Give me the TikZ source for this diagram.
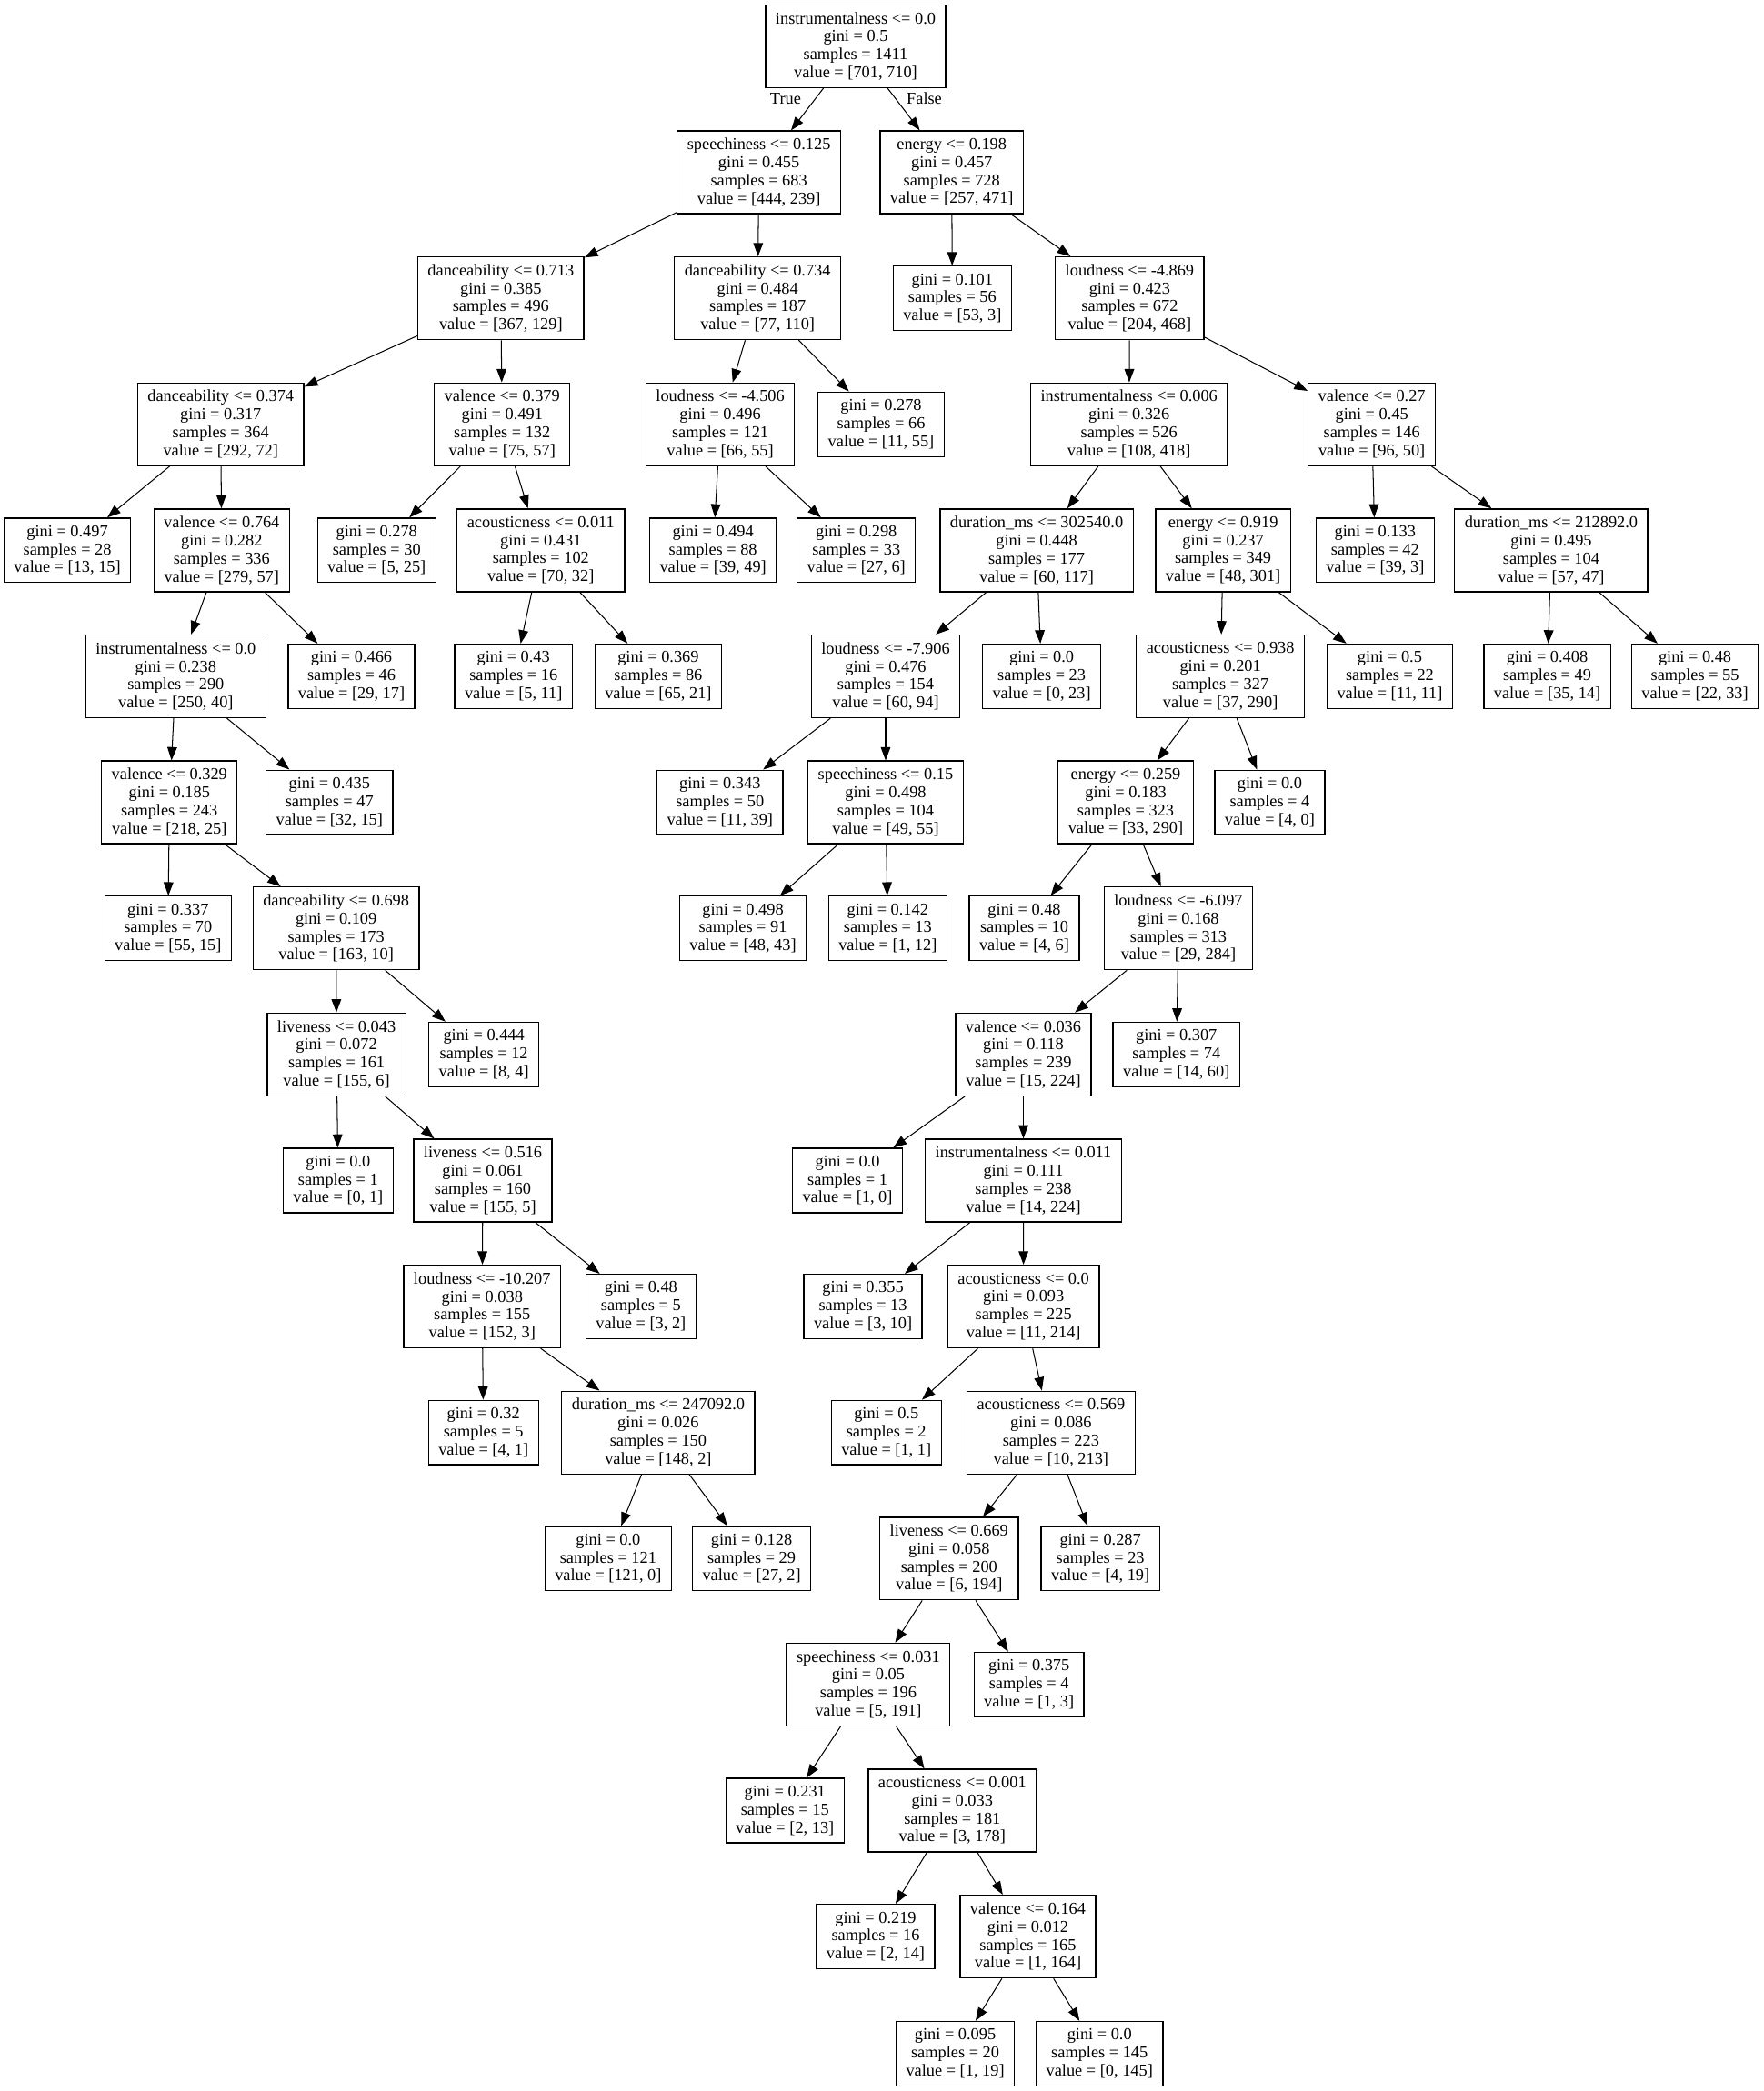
\documentclass[tikz,border=0pt]{standalone}
\usepackage{fontspec}
\setmainfont{Liberation Serif}
\usetikzlibrary{arrows.meta}

\tikzset{
	split/.style={rectangle, draw, line width=0.9pt, align=center, inner xsep=7.5pt, inner ysep=0pt,
		minimum height=62pt, font=\fontsize{12.5}{13.5}\selectfont},
	leaf/.style={split, minimum height=48.3pt},
	link/.style={draw, line width=0.7pt, -{Triangle[length=10pt,width=7.3pt]}},
	branch/.style={inner sep=0pt, font=\fontsize{12.5}{13.5}\selectfont}
}

\begin{document}
\begin{tikzpicture}[x=1pt, y=-1pt]
		
		\useasboundingbox (0,0) rectangle (1322,1568);
		
		%Rank 0
		\node [split] (root) at (641.5,34.7) {instrumentalness <= 0.0\\ gini = 0.5\\ samples = 1411\\ value = [701, 710]};
		
		%Rank 1
		\node [split] (speechA) at (569,129.2) {speechiness <= 0.125\\ gini = 0.455\\ samples = 683\\ value = [444, 239]};
		\node [split] (energyA) at (713.6,129.2) {energy <= 0.198\\ gini = 0.457\\ samples = 728\\ value = [257, 471]};
		
		%Rank 2
		\node [split] (danceA) at (375.5,223.7) {danceability <= 0.713\\ gini = 0.385\\ samples = 496\\ value = [367, 129]};
		\node [split] (danceB) at (568,223.7) {danceability <= 0.734\\ gini = 0.484\\ samples = 187\\ value = [77, 110]};
		\node [leaf] (leaf1) at (714,223.7) {gini = 0.101\\ samples = 56\\ value = [53, 3]};
		\node [split] (loudA) at (847,223.7) {loudness <= -4.869\\ gini = 0.423\\ samples = 672\\ value = [204, 468]};
		
		%Rank 3
		\node [split] (danceC) at (165.5,318.2) {danceability <= 0.374\\ gini = 0.317\\ samples = 364\\ value = [292, 72]};
		\node [split] (valenceA) at (376.5,318.2) {valence <= 0.379\\ gini = 0.491\\ samples = 132\\ value = [75, 57]};
		\node [split] (loudB) at (540,318.2) {loudness <= -4.506\\ gini = 0.496\\ samples = 121\\ value = [66, 55]};
		\node [leaf] (leaf2) at (660.6,318.2) {gini = 0.278\\ samples = 66\\ value = [11, 55]};
		\node [split] (instrA) at (846.5,318.2) {instrumentalness <= 0.006\\ gini = 0.326\\ samples = 526\\ value = [108, 418]};
		\node [split] (valenceB) at (1028.5,318.2) {valence <= 0.27\\ gini = 0.45\\ samples = 146\\ value = [96, 50]};
		
		%Rank 4
		\node [leaf] (leaf3) at (50.5,412.7) {gini = 0.497\\ samples = 28\\ value = [13, 15]};
		\node [split] (valenceC) at (166.2,412.7) {valence <= 0.764\\ gini = 0.282\\ samples = 336\\ value = [279, 57]};
		\node [leaf] (leaf4) at (282.4,412.7) {gini = 0.278\\ samples = 30\\ value = [5, 25]};
		\node [split] (acousA) at (405.5,412.7) {acousticness <= 0.011\\ gini = 0.431\\ samples = 102\\ value = [70, 32]};
		\node [leaf] (leaf5) at (534.6,412.7) {gini = 0.494\\ samples = 88\\ value = [39, 49]};
		\node [leaf] (leaf6) at (642,412.7) {gini = 0.298\\ samples = 33\\ value = [27, 6]};
		\node [split] (durA) at (777.2,412.7) {duration\_ms <= 302540.0\\ gini = 0.448\\ samples = 177\\ value = [60, 117]};
		\node [split] (energyB) at (917,412.7) {energy <= 0.919\\ gini = 0.237\\ samples = 349\\ value = [48, 301]};
		\node [leaf] (leaf7) at (1031,412.7) {gini = 0.133\\ samples = 42\\ value = [39, 3]};
		\node [split] (durB) at (1163,412.7) {duration\_ms <= 212892.0\\ gini = 0.495\\ samples = 104\\ value = [57, 47]};
		
		%Rank 5
		\node [split] (instrB) at (131.8,507.2) {instrumentalness <= 0.0\\ gini = 0.238\\ samples = 290\\ value = [250, 40]};
		\node [leaf] (leaf8) at (263.5,507.2) {gini = 0.466\\ samples = 46\\ value = [29, 17]};
		\node [leaf] (leaf9) at (385,507.2) {gini = 0.43\\ samples = 16\\ value = [5, 11]};
		\node [leaf] (leaf10) at (493.5,507.2) {gini = 0.369\\ samples = 86\\ value = [65, 21]};
		\node [split] (loudC) at (664,507.2) {loudness <= -7.906\\ gini = 0.476\\ samples = 154\\ value = [60, 94]};
		\node [leaf] (leaf11) at (781,507.2) {gini = 0.0\\ samples = 23\\ value = [0, 23]};
		\node [split] (acousB) at (915,507.2) {acousticness <= 0.938\\ gini = 0.201\\ samples = 327\\ value = [37, 290]};
		\node [leaf] (leaf12) at (1042,507.2) {gini = 0.5\\ samples = 22\\ value = [11, 11]};
		\node [leaf] (leaf13) at (1160,507.2) {gini = 0.408\\ samples = 49\\ value = [35, 14]};
		\node [leaf] (leaf14) at (1270.8,507.2) {gini = 0.48\\ samples = 55\\ value = [22, 33]};
		
		%Rank 6
		\node [split] (valenceD) at (127,601.7) {valence <= 0.329\\ gini = 0.185\\ samples = 243\\ value = [218, 25]};
		\node [leaf] (leaf15) at (247,601.7) {gini = 0.435\\ samples = 47\\ value = [32, 15]};
		\node [leaf] (leaf16) at (539.8,601.7) {gini = 0.343\\ samples = 50\\ value = [11, 39]};
		\node [split] (speechB) at (664,601.7) {speechiness <= 0.15\\ gini = 0.498\\ samples = 104\\ value = [49, 55]};
		\node [split] (energyC) at (844,601.7) {energy <= 0.259\\ gini = 0.183\\ samples = 323\\ value = [33, 290]};
		\node [leaf] (leaf17) at (952,601.7) {gini = 0.0\\ samples = 4\\ value = [4, 0]};
		
		%Rank 7
		\node [leaf] (leaf18) at (126,696.2) {gini = 0.337\\ samples = 70\\ value = [55, 15]};
		\node [split] (danceD) at (252,696.2) {danceability <= 0.698\\ gini = 0.109\\ samples = 173\\ value = [163, 10]};
		\node [leaf] (leaf19) at (557,696.2) {gini = 0.498\\ samples = 91\\ value = [48, 43]};
		\node [leaf] (leaf20) at (665.6,696.2) {gini = 0.142\\ samples = 13\\ value = [1, 12]};
		\node [leaf] (leaf21) at (768,696.2) {gini = 0.48\\ samples = 10\\ value = [4, 6]};
		\node [split] (loudD) at (883.5,696.2) {loudness <= -6.097\\ gini = 0.168\\ samples = 313\\ value = [29, 284]};
		
		%Rank 8
		\node [split] (liveA) at (252.3,790.7) {liveness <= 0.043\\ gini = 0.072\\ samples = 161\\ value = [155, 6]};
		\node [leaf] (leaf22) at (362.8,790.7) {gini = 0.444\\ samples = 12\\ value = [8, 4]};
		\node [split] (valenceE) at (767.3,790.7) {valence <= 0.036\\ gini = 0.118\\ samples = 239\\ value = [15, 224]};
		\node [leaf] (leaf23) at (882,790.7) {gini = 0.307\\ samples = 74\\ value = [14, 60]};
		
		%Rank 9
		\node [leaf] (leaf24) at (253.5,885.2) {gini = 0.0\\ samples = 1\\ value = [0, 1]};
		\node [split] (liveB) at (362,885.2) {liveness <= 0.516\\ gini = 0.061\\ samples = 160\\ value = [155, 5]};
		\node [leaf] (leaf25) at (635.4,885.2) {gini = 0.0\\ samples = 1\\ value = [1, 0]};
		\node [split] (instrC) at (767.3,885.2) {instrumentalness <= 0.011\\ gini = 0.111\\ samples = 238\\ value = [14, 224]};
		
		%Rank 10
		\node [split] (loudE) at (361.5,979.7) {loudness <= -10.207\\ gini = 0.038\\ samples = 155\\ value = [152, 3]};
		\node [leaf] (leaf26) at (480.5,979.7) {gini = 0.48\\ samples = 5\\ value = [3, 2]};
		\node [leaf] (leaf27) at (647,979.7) {gini = 0.355\\ samples = 13\\ value = [3, 10]};
		\node [split] (acousC) at (767.4,979.7) {acousticness <= 0.0\\ gini = 0.093\\ samples = 225\\ value = [11, 214]};
		
		%Rank 11
		\node [leaf] (leaf28) at (362.5,1074.2) {gini = 0.32\\ samples = 5\\ value = [4, 1]};
		\node [split] (durC) at (493.5,1074.2) {duration\_ms <= 247092.0\\ gini = 0.026\\ samples = 150\\ value = [148, 2]};
		\node [leaf] (leaf29) at (664.5,1074.2) {gini = 0.5\\ samples = 2\\ value = [1, 1]};
		\node [split] (acousD) at (788,1074.2) {acousticness <= 0.569\\ gini = 0.086\\ samples = 223\\ value = [10, 213]};
		
		%Rank 12
		\node [leaf] (leaf30) at (456,1168.7) {gini = 0.0\\ samples = 121\\ value = [121, 0]};
		\node [leaf] (leaf31) at (563.5,1168.7) {gini = 0.128\\ samples = 29\\ value = [27, 2]};
		\node [split] (liveC) at (711.6,1168.7) {liveness <= 0.669\\ gini = 0.058\\ samples = 200\\ value = [6, 194]};
		\node [leaf] (leaf32) at (825,1168.7) {gini = 0.287\\ samples = 23\\ value = [4, 19]};
		
		%Rank 13
		\node [split] (speechC) at (651,1263.2) {speechiness <= 0.031\\ gini = 0.05\\ samples = 196\\ value = [5, 191]};
		\node [leaf] (leaf33) at (771.5,1263.2) {gini = 0.375\\ samples = 4\\ value = [1, 3]};
		
		%Rank 14
		\node [leaf] (leaf34) at (588.5,1357.7) {gini = 0.231\\ samples = 15\\ value = [2, 13]};
		\node [split] (acousE) at (714,1357.7) {acousticness <= 0.001\\ gini = 0.033\\ samples = 181\\ value = [3, 178]};
		
		%Rank 15
		\node [leaf] (leaf35) at (656.5,1452.2) {gini = 0.219\\ samples = 16\\ value = [2, 14]};
		\node [split] (valenceF) at (770.7,1452.2) {valence <= 0.164\\ gini = 0.012\\ samples = 165\\ value = [1, 164]};
		
		%Rank 16
		\node [leaf] (leaf36) at (716.2,1540) {gini = 0.095\\ samples = 20\\ value = [1, 19]};
		\node [leaf] (leaf37) at (824.4,1540) {gini = 0.0\\ samples = 145\\ value = [0, 145]};
		
		
		%Links
		\path [link] (root) -- (speechA);
		\path [link] (root) -- (energyA);
		\path [link] (speechA) -- (danceA);
		\path [link] (speechA) -- (danceB);
		\path [link] (energyA) -- (leaf1);
		\path [link] (energyA) -- (loudA);
		\path [link] (danceA) -- (danceC);
		\path [link] (danceA) -- (valenceA);
		\path [link] (danceB) -- (loudB);
		\path [link] (danceB) -- (leaf2);
		\path [link] (loudA) -- (instrA);
		\path [link] (loudA) -- (valenceB);
		\path [link] (danceC) -- (leaf3);
		\path [link] (danceC) -- (valenceC);
		\path [link] (valenceA) -- (leaf4);
		\path [link] (valenceA) -- (acousA);
		\path [link] (loudB) -- (leaf5);
		\path [link] (loudB) -- (leaf6);
		\path [link] (instrA) -- (durA);
		\path [link] (instrA) -- (energyB);
		\path [link] (valenceB) -- (leaf7);
		\path [link] (valenceB) -- (durB);
		\path [link] (valenceC) -- (instrB);
		\path [link] (valenceC) -- (leaf8);
		\path [link] (acousA) -- (leaf9);
		\path [link] (acousA) -- (leaf10);
		\path [link] (durA) -- (loudC);
		\path [link] (durA) -- (leaf11);
		\path [link] (energyB) -- (acousB);
		\path [link] (energyB) -- (leaf12);
		\path [link] (durB) -- (leaf13);
		\path [link] (durB) -- (leaf14);
		\path [link] (instrB) -- (valenceD);
		\path [link] (instrB) -- (leaf15);
		\path [link] (loudC) -- (leaf16);
		\path [link] (loudC) -- (speechB);
		\path [link] (acousB) -- (energyC);
		\path [link] (acousB) -- (leaf17);
		\path [link] (valenceD) -- (leaf18);
		\path [link] (valenceD) -- (danceD);
		\path [link] (speechB) -- (leaf19);
		\path [link] (speechB) -- (leaf20);
		\path [link] (energyC) -- (leaf21);
		\path [link] (energyC) -- (loudD);
		\path [link] (danceD) -- (liveA);
		\path [link] (danceD) -- (leaf22);
		\path [link] (loudD) -- (valenceE);
		\path [link] (loudD) -- (leaf23);
		\path [link] (liveA) -- (leaf24);
		\path [link] (liveA) -- (liveB);
		\path [link] (valenceE) -- (leaf25);
		\path [link] (valenceE) -- (instrC);
		\path [link] (liveB) -- (loudE);
		\path [link] (liveB) -- (leaf26);
		\path [link] (instrC) -- (leaf27);
		\path [link] (instrC) -- (acousC);
		\path [link] (loudE) -- (leaf28);
		\path [link] (loudE) -- (durC);
		\path [link] (acousC) -- (leaf29);
		\path [link] (acousC) -- (acousD);
		\path [link] (durC) -- (leaf30);
		\path [link] (durC) -- (leaf31);
		\path [link] (acousD) -- (liveC);
		\path [link] (acousD) -- (leaf32);
		\path [link] (liveC) -- (speechC);
		\path [link] (liveC) -- (leaf33);
		\path [link] (speechC) -- (leaf34);
		\path [link] (speechC) -- (acousE);
		\path [link] (acousE) -- (leaf35);
		\path [link] (acousE) -- (valenceF);
		\path [link] (valenceF) -- (leaf36);
		\path [link] (valenceF) -- (leaf37);
		
		%Branch labels
		\node [branch] (trueLbl) at (589,74) {True};
		\node [branch] (falseLbl) at (693,74) {False};
		
\end{tikzpicture}
\end{document}
